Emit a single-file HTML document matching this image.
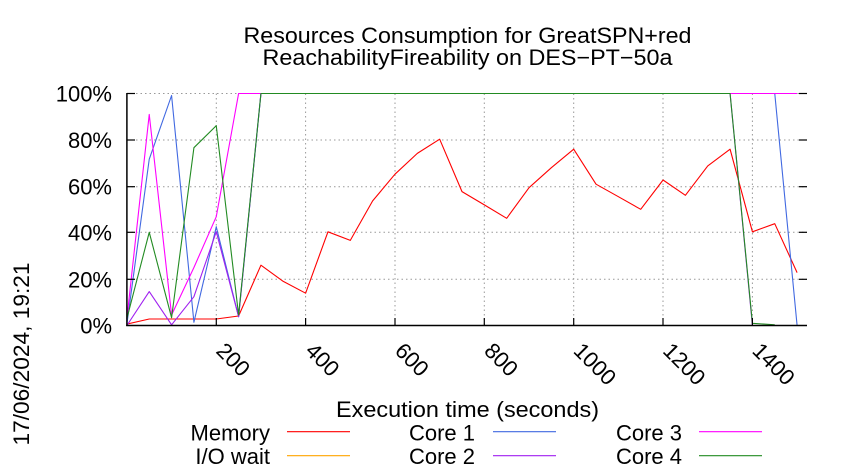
<!DOCTYPE html>
<html><head><meta charset="utf-8"><style>
html,body{margin:0;padding:0;background:#fff;}
svg{display:block;}
text{font-family:"Liberation Sans",Arial,sans-serif;fill:#000;}
</style></head><body>
<svg width="850" height="475" viewBox="0 0 850 475" xmlns="http://www.w3.org/2000/svg">
<rect x="0" y="0" width="850" height="475" fill="#fff"/>
<!-- title -->
<text x="467.5" y="43" font-size="22" text-anchor="middle" textLength="448" lengthAdjust="spacingAndGlyphs">Resources Consumption for GreatSPN+red</text>
<text x="467.5" y="65" font-size="22" text-anchor="middle" textLength="410" lengthAdjust="spacingAndGlyphs">ReachabilityFireability on DES−PT−50a</text>
<!-- grid -->
<g stroke="#999" stroke-width="1" stroke-dasharray="1.5,3" fill="none">
<line x1="127" y1="93.5" x2="807" y2="93.5"/>
<line x1="127" y1="140" x2="807" y2="140"/>
<line x1="127" y1="186.7" x2="807" y2="186.7"/>
<line x1="127" y1="232.3" x2="807" y2="232.3"/>
<line x1="127" y1="279.3" x2="807" y2="279.3"/>
<line x1="216.3" y1="93.5" x2="216.3" y2="325.5"/>
<line x1="305.6" y1="93.5" x2="305.6" y2="325.5"/>
<line x1="395" y1="93.5" x2="395" y2="325.5"/>
<line x1="484.3" y1="93.5" x2="484.3" y2="325.5"/>
<line x1="573.7" y1="93.5" x2="573.7" y2="325.5"/>
<line x1="663" y1="93.5" x2="663" y2="325.5"/>
<line x1="752.4" y1="93.5" x2="752.4" y2="325.5"/>
</g>
<!-- series -->
<g fill="none" stroke-width="1.1" stroke-linejoin="round">
<polyline stroke="#ffa500" points="126.9,325.5 797.1,325.5"/>
<polyline stroke="#ff0000" points="126.9,324.1 149.24,319 171.58,319 193.92,319 216.26,319 238.6,316 260.94,265.2 283.28,281.4 305.62,293.2 327.96,231.8 350.3,240.4 372.64,200.9 394.98,174.2 417.32,153.4 439.66,139.2 462,191.6 484.34,204.9 506.68,218.3 529.02,187.7 551.36,167.7 573.7,149.2 596.04,184.2 618.38,196.7 640.72,209.3 663.06,180 685.4,195.3 707.74,165.9 730.08,149.2 752.42,231.8 774.76,223.7 797.1,272.6"/>
<polyline stroke="#4169e1" points="126.9,324.1 149.24,159.2 171.58,95.5 193.92,322.3 216.26,226.7 238.6,316.7 260.94,93.5 774.76,93.5 797.1,325.5"/>
<polyline stroke="#a020f0" points="126.9,325.5 149.24,291.6 171.58,324.8 193.92,296.7 216.26,231.7 238.6,316.7 260.94,93.5 730.08,93.5 752.42,325.5 797.1,325.5"/>
<polyline stroke="#ff00ff" points="126.9,318.5 149.24,114.4 171.58,315 193.92,267.5 216.26,216.7 238.6,93.5 797.1,93.5"/>
<polyline stroke="#228b22" points="126.9,318.5 149.24,232.3 171.58,317.7 193.92,147.7 216.26,125.7 238.6,315 260.94,93.5 730.08,93.5 752.42,323.3 774.76,324.8"/>
</g>
<!-- axes -->
<g stroke="#000" stroke-width="1.5" fill="none">
<line x1="126.9" y1="93" x2="126.9" y2="326"/>
<line x1="126.2" y1="325.5" x2="807" y2="325.5"/>
</g>
<g stroke="#000" stroke-width="1.2">
<line x1="127" y1="93.5" x2="135" y2="93.5"/>
<line x1="127" y1="140" x2="135" y2="140"/>
<line x1="127" y1="186.7" x2="135" y2="186.7"/>
<line x1="127" y1="232.3" x2="135" y2="232.3"/>
<line x1="127" y1="279.3" x2="135" y2="279.3"/>
<line x1="799" y1="93.5" x2="807" y2="93.5"/>
<line x1="799" y1="140" x2="807" y2="140"/>
<line x1="799" y1="186.7" x2="807" y2="186.7"/>
<line x1="799" y1="232.3" x2="807" y2="232.3"/>
<line x1="799" y1="279.3" x2="807" y2="279.3"/>
<line x1="216.3" y1="318" x2="216.3" y2="325.5"/>
<line x1="305.6" y1="318" x2="305.6" y2="325.5"/>
<line x1="395" y1="318" x2="395" y2="325.5"/>
<line x1="484.3" y1="318" x2="484.3" y2="325.5"/>
<line x1="573.7" y1="318" x2="573.7" y2="325.5"/>
<line x1="663" y1="318" x2="663" y2="325.5"/>
<line x1="752.4" y1="318" x2="752.4" y2="325.5"/>
</g>
<!-- y tick labels -->
<g font-size="22" text-anchor="end">
<text x="112" y="101.5">100%</text>
<text x="112" y="148">80%</text>
<text x="112" y="194.7">60%</text>
<text x="112" y="240.3">40%</text>
<text x="112" y="287.3">20%</text>
<text x="112" y="333.5">0%</text>
</g>
<!-- x tick labels -->
<g font-size="22">
<text transform="translate(215,352) rotate(45)">200</text>
<text transform="translate(304.3,352) rotate(45)">400</text>
<text transform="translate(393.7,352) rotate(45)">600</text>
<text transform="translate(483,352) rotate(45)">800</text>
<text transform="translate(572.4,352) rotate(45)">1000</text>
<text transform="translate(661.7,352) rotate(45)">1200</text>
<text transform="translate(751.1,352) rotate(45)">1400</text>
</g>
<!-- x label -->
<text x="467.5" y="417" font-size="22" text-anchor="middle" textLength="263" lengthAdjust="spacingAndGlyphs">Execution time (seconds)</text>
<!-- date -->
<text transform="translate(29,354) rotate(-90)" font-size="22" text-anchor="middle" textLength="183" lengthAdjust="spacingAndGlyphs">17/06/2024, 19:21</text>
<!-- legend -->
<g font-size="22" text-anchor="end">
<text x="270" y="440.5">Memory</text>
<text x="270" y="464">I/O wait</text>
<text x="475" y="440.5">Core 1</text>
<text x="475" y="464">Core 2</text>
<text x="682" y="440.5">Core 3</text>
<text x="682" y="464">Core 4</text>
</g>
<g stroke-width="1.1">
<line x1="287" y1="431.7" x2="350" y2="431.7" stroke="#ff0000"/>
<line x1="287" y1="455.7" x2="350" y2="455.7" stroke="#ffa500"/>
<line x1="493" y1="431.7" x2="556" y2="431.7" stroke="#4169e1"/>
<line x1="493" y1="455.7" x2="556" y2="455.7" stroke="#a020f0"/>
<line x1="699" y1="431.7" x2="762" y2="431.7" stroke="#ff00ff"/>
<line x1="699" y1="455.7" x2="762" y2="455.7" stroke="#228b22"/>
</g>
</svg>
</body></html>
